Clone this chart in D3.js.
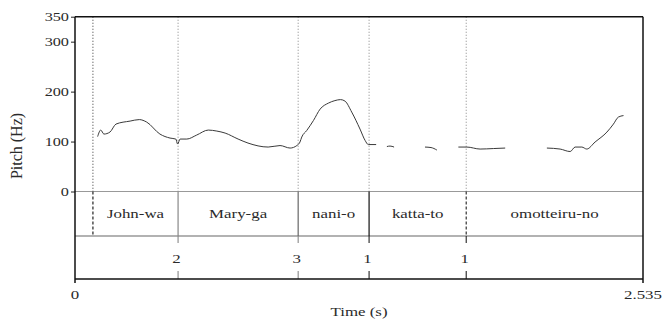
<!DOCTYPE html>
<html>
<head>
<meta charset="utf-8">
<script src="https://cdn.jsdelivr.net/npm/d3@7"></script>
<style>
  body { margin: 0; background: #fff; }
  text { font-family: "Liberation Serif", "Times New Roman", serif; fill: #2a2a2a; }
</style>
</head>
<body>
<div id="chart"></div>
<script>
// pitch track (s, Hz); null marks a gap in the track
const pitchTime = [0.101, 0.115, 0.129, 0.156, 0.183, 0.246, 0.287, 0.320, 0.379, 0.424, 0.450, 0.458, 0.469, 0.499,
  0.543, 0.595, 0.633, 0.670, 0.728, 0.772, 0.862, 0.915, 0.960, 0.990, 1.004, 1.012, 1.034, 1.064, 1.094, 1.131,
  1.160, 1.185, 1.205, 1.235, 1.272, 1.295, 1.309, 1.344, null,
  1.392, 1.406, 1.424, null,
  1.562, 1.589, 1.615, null,
  1.711, 1.749, 1.808, 1.867, 1.920, null,
  2.106, 2.165, 2.210, 2.232, 2.262, 2.284, 2.321, 2.374, 2.403, 2.425, 2.448];
const pitchHz = [110, 123, 115, 119, 135, 141, 144, 139, 115, 107, 105, 95, 105, 105,
  113, 123, 121, 117, 105, 97, 89, 92, 87, 92, 99, 109, 122, 142, 165, 177,
  182, 184, 181, 159, 125, 102, 94, 94, null,
  90, 91, 89, null,
  89, 88, 83, null,
  89, 89, 85, 86, 87, null,
  87, 85, 80, 89, 89, 85, 99, 119, 135, 149, 152];

// word tier
const words = ["John-wa", "Mary-ga", "nani-o", "katta-to", "omotteiru-no"];
const wordBounds = [0.080, 0.460, 0.996, 1.3125, 1.746, 2.535];
// break index tier
const breakLabels = ["2", "3", "1", "1"];
const breakTimes = [0.460, 0.996, 1.3125, 1.746];

const yTicks = [0, 100, 200, 300, 350];
const totalTime = 2.535;

const svgWidth = 662, svgHeight = 322;
const svg = d3.select("#chart").append("svg")
  .attr("width", svgWidth)
  .attr("height", svgHeight);

const x = d3.scaleLinear().domain([0, totalTime]).range([75, 643]);
const y = d3.scaleLinear().domain([0, 350]).range([191.5, 16.7]);

const tier1Top = y(0), tier1Bot = 236, tier2Bot = 279;
const sx = 1.25; // glyphs in the figure are stretched sideways

function label(g, tx, ty, str, anchor, size) {
  return g.append("text")
    .attr("transform", `translate(${tx},${ty}) scale(${sx},1)`)
    .attr("text-anchor", anchor)
    .style("font-size", size + "px")
    .text(str);
}

// dotted boundary lines through the pitch panel
svg.append("g").selectAll("line")
  .data(wordBounds.slice(0, -1))
  .enter().append("line")
  .attr("x1", d => x(d)).attr("x2", d => x(d))
  .attr("y1", y(350)).attr("y2", tier1Top)
  .attr("stroke", (d, i) => i === 0 ? "#555" : "#999")
  .attr("stroke-width", 1)
  .attr("stroke-dasharray", "1.2,1.8");

// pitch curve
const line = d3.line()
  .defined((d, i) => pitchTime[i] !== null)
  .x((d, i) => x(pitchTime[i]))
  .y((d, i) => y(pitchHz[i]))
  .curve(d3.curveMonotoneX);

svg.append("path")
  .datum(pitchHz)
  .attr("d", line)
  .attr("fill", "none")
  .attr("stroke", "#3a3a3a")
  .attr("stroke-width", 1);

// left axis
const leftAxis = d3.axisLeft(y).tickValues(yTicks).tickSize(4).tickFormat(d3.format("d"));
const yAxisG = svg.append("g")
  .attr("transform", `translate(${x(0)},0)`)
  .call(leftAxis);
yAxisG.select(".domain").remove();
yAxisG.selectAll(".tick line").attr("stroke", "#222");
yAxisG.selectAll(".tick text").remove();
yTicks.forEach(v => label(svg, x(0) - 6, y(v) + 4.5, String(v), "end", 13));

svg.append("text")
  .attr("transform", `translate(22,146) rotate(-90)`)
  .attr("text-anchor", "middle")
  .style("font-size", "16px")
  .text("Pitch (Hz)");

// horizontal tier lines
svg.append("line").attr("x1", x(0)).attr("x2", x(totalTime))
  .attr("y1", tier1Top).attr("y2", tier1Top).attr("stroke", "#999").attr("stroke-width", 1.2);
svg.append("line").attr("x1", x(0)).attr("x2", x(totalTime))
  .attr("y1", tier1Bot).attr("y2", tier1Bot).attr("stroke", "#666").attr("stroke-width", 1.2);

// word tier boundaries
const boundStyle = [
  { c: "#222", dash: "3,2" },
  { c: "#888", dash: null },
  { c: "#666", dash: null },
  { c: "#111", dash: null },
  { c: "#333", dash: "3,2" }
];
svg.append("g").selectAll("line")
  .data(wordBounds.slice(0, -1))
  .enter().append("line")
  .attr("x1", d => x(d)).attr("x2", d => x(d))
  .attr("y1", tier1Top).attr("y2", tier1Bot)
  .attr("stroke", (d, i) => boundStyle[i].c)
  .attr("stroke-width", 1.2)
  .attr("stroke-dasharray", (d, i) => boundStyle[i].dash);

words.forEach((w, i) => {
  const cx = (x(wordBounds[i]) + x(wordBounds[i + 1])) / 2;
  label(svg, cx, 218, w, "middle", 13.5);
});

// break index tier
const breakG = svg.append("g");
breakTimes.forEach((t, i) => {
  const bx = x(t);
  breakG.append("line").attr("x1", bx).attr("x2", bx)
    .attr("y1", tier1Bot).attr("y2", tier1Bot + 7)
    .attr("stroke", i < 2 ? "#888" : "#222").attr("stroke-width", 1.1);
  breakG.append("line").attr("x1", bx).attr("x2", bx)
    .attr("y1", tier2Bot - 8).attr("y2", tier2Bot)
    .attr("stroke", i < 2 ? "#888" : "#222").attr("stroke-width", 1.1);
  label(breakG, bx - 1.5, 263, breakLabels[i], "middle", 13.5);
});

// frame
const frame = svg.append("g").attr("stroke", "#111").attr("stroke-width", 1.5).attr("fill", "none");
frame.append("line").attr("x1", x(0)).attr("x2", x(totalTime)).attr("y1", y(350)).attr("y2", y(350));
frame.append("line").attr("x1", x(0)).attr("x2", x(0)).attr("y1", y(350)).attr("y2", tier2Bot + 4);
frame.append("line").attr("x1", x(totalTime)).attr("x2", x(totalTime)).attr("y1", y(350)).attr("y2", tier2Bot + 4);
frame.append("line").attr("x1", x(0)).attr("x2", x(totalTime)).attr("y1", tier2Bot).attr("y2", tier2Bot);

// time axis labels
label(svg, x(0), 299, "0", "middle", 13.5);
label(svg, x(totalTime), 299, String(totalTime), "middle", 13.5);
label(svg, (x(0) + x(totalTime)) / 2, 316, "Time (s)", "middle", 13.5);
</script>
</body>
</html>
